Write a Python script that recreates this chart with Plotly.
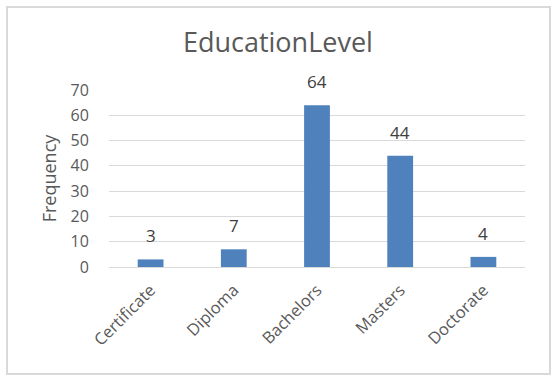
import plotly.graph_objects as go

categories = ["Certificate", "Diploma", "Bachelors", "Masters", "Doctorate"]
frequency = [3, 7, 64, 44, 4]
y_ticks = [0, 10, 20, 30, 40, 50, 60, 70]

FONT = "Open Sans, Segoe UI, Calibri, sans-serif"

fig = go.Figure(
    go.Bar(
        x=categories,
        y=frequency,
        marker=dict(color="#4F81BD", line=dict(width=0)),
        width=0.31,
        hoverinfo="x+y",
    )
)

for c, v in zip(categories, frequency):
    fig.add_annotation(
        x=c,
        y=v,
        text=str(v),
        showarrow=False,
        xanchor="center",
        yanchor="bottom",
        yshift=10,
        font=dict(family=FONT, size=17, color="#404040"),
    )

L, R, T, B = 109, 33, 90, 116
W, H = 558, 383
pw, ph = W - L - R, H - T - B

def px_x(x):
    return (x - L) / pw

def px_y(y):
    return (H - B - y) / ph

fig.update_layout(
    width=W,
    height=H,
    margin=dict(l=L, r=R, t=T, b=B, pad=0),
    paper_bgcolor="white",
    plot_bgcolor="white",
    showlegend=False,
    title=dict(
        text="EducationLevel",
        x=0.498,
        xanchor="center",
        y=1 - 43 / H,
        yanchor="middle",
        font=dict(family=FONT, size=27, color="#595959"),
    ),
    xaxis=dict(
        tickangle=-45,
        tickfont=dict(family=FONT, size=16.5, color="#595959"),
        showgrid=False,
        showline=False,
        ticks="outside",
        ticklen=6,
        tickcolor="rgba(0,0,0,0)",
        zeroline=False,
    ),
    yaxis=dict(
        range=[0, 70],
        tickvals=y_ticks,
        tickfont=dict(family=FONT, size=16, color="#595959"),
        showgrid=True,
        gridcolor="#D9D9D9",
        gridwidth=1,
        zeroline=True,
        zerolinecolor="#D9D9D9",
        zerolinewidth=1,
        showline=False,
        ticks="outside",
        ticklen=16,
        tickcolor="rgba(0,0,0,0)",
        title=dict(
            text="Frequency",
            font=dict(family=FONT, size=18, color="#595959"),
            standoff=9,
        ),
    ),
    shapes=[
        dict(
            type="rect",
            xref="paper",
            yref="paper",
            x0=px_x(7),
            x1=px_x(550),
            y0=px_y(374),
            y1=px_y(7),
            line=dict(color="#D9D9D9", width=2),
            fillcolor="rgba(0,0,0,0)",
            layer="below",
        )
    ],
)

fig.write_html(
    "out.html",
    config={"displayModeBar": False},
    post_script="document.body.style.margin='0';document.body.style.overflow='hidden';",
)
